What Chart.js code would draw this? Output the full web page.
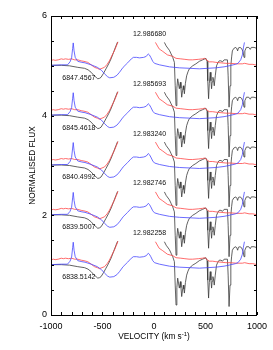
<!DOCTYPE html>
<html>
<head>
<meta charset="utf-8">
<script src="https://cdn.jsdelivr.net/npm/chart.js@4"></script>
<style>
  body { margin: 0; background: #fff; }
</style>
</head>
<body>
<canvas id="fluxChart" width="273" height="350"></canvas>
<script>
const FONT = "'Liberation Sans', Arial, Helvetica, sans-serif";

// vertical offset of each spectrum (top to bottom) and its two labels
const offsets = [4, 3, 2, 1, 0];
const wavelengths = ["6847.4567", "6845.4618", "6840.4992", "6839.5007", "6838.5142"];
const epochs = ["12.986680", "12.985693", "12.983240", "12.982746", "12.982258"];

const xTicks = [-1000, -500, 0, 500, 1000];
const yTicks = [0, 2, 4, 6];

// blue profile
const blueVel = [-1000, -900, -840, -815, -800, -790, -784, -776, -765, -740, -700, -670, -610, -550, -510,
  -480, -450, -430, -390, -360, -335, -300, -256, -220, -200, -170, -140, -100, -75, -55, -45, -31, -12,
  5, 53, 150, 246, 350, 440, 520, 601, 680, 729, 790, 815, 842, 858, 868, 878];
const blueFlux = [1.01, 1.02, 1.02, 1.08, 1.16, 1.35, 1.46, 1.30, 1.17, 1.09, 1.07, 1.06, 1.02, 0.97, 0.91,
  0.84, 0.78, 0.76, 0.77, 0.81, 0.87, 0.97, 1.06, 1.14, 1.17, 1.17, 1.16, 1.17, 1.19, 1.24, 1.22, 1.17, 1.09,
  1.05, 1.02, 0.98, 0.96, 0.95, 0.94, 0.95, 0.96, 0.98, 1.00, 1.03, 1.05, 1.12, 1.22, 1.36, 1.47];

// red profile (null = break)
const redVel = [-1000, -975, -960, -930, -900, -880, -860, -830, -800, -770, -740, -707, -680, -643, -610,
  -578, -550, -530, -505, -481, -455, -433, -410, -385, -365, -350, -340,
  14, 50, 85, 130, 182, 214, 260, 300, 340, 375, 430, 472, 490, 505, 536, 570, 601, 650, 698, 740, 800,
  858, 880, 923, 960, 1000];
const redFlux = [1.11, 1.12, 1.11, 1.12, 1.14, 1.13, 1.14, 1.13, 1.14, 1.12, 1.12, 1.10, 1.09, 1.07, 1.02,
  0.97, 0.95, 0.93, 0.95, 0.97, 1.03, 1.10, 1.20, 1.30, 1.40, 1.48, null,
  1.47, 1.34, 1.29, 1.22, 1.19, 1.15, 1.14, 1.13, 1.12, 1.12, 1.13, 1.14, 1.15, 1.13, 1.08, 1.08, 1.07,
  1.06, 1.05, 1.05, 1.04, 1.04, 1.05, 1.03, 1.03, 1.01];

// black profile (null = break)
const blackVel = [-1000, -900, -820, -740, -674, -640, -610, -585, -562, -546, -528, -514, -490, -466, -440,
  -417, -393, -369, -353, -340,
  101, 118, 150, 166, 182, 198, 206, 214, 222, 230, 238, 246, 256, 262, 269, 277, 285, 290, 295, 305, 317,
  330, 343, 375, 407, 440, 472, 504, 515, 522, 530, 537, 546, 553, 559, 565, 572, 579, 585, 595, 607, 620,
  633, 650, 665, 681, 700, 713, 720, 729, 738, 746, 754, 761, 775, 794, 805, 812, 820, 835, 850, 865, 874,
  882, 897, 920, 935, 945, 971, 1000];
const blackFlux = [1.01, 1.01, 1.00, 0.97, 0.95, 0.92, 0.87, 0.81, 0.77, 0.74, 0.75, 0.77, 0.85, 0.94, 1.04,
  1.14, 1.27, 1.40, 1.48, null,
  1.47, 1.40, 1.31, 1.24, 1.17, 1.07, 0.60, 0.20, 0.55, 0.74, 0.64, 0.54, 0.67, 0.55, 0.37, 0.50, 0.60, 0.52,
  0.44, 0.65, 0.80, 0.88, 0.94, 1.00, 1.04, 1.09, 1.12, 1.15, 1.09, 0.70, 0.34, 0.65, 0.87, 0.70, 0.54, 0.68,
  0.77, 0.70, 0.60, 0.80, 1.00, 1.06, 1.10, 1.10, 1.08, 1.12, 1.12, 1.12, 0.80, 0.17, 0.60, 1.00, 1.18, 1.30,
  1.35, 1.37, 1.34, 1.30, 1.36, 1.37, 1.35, 1.28, 1.17, 1.30, 1.37, 1.37, 1.33, 1.37, 1.37, 1.35];

function points(vel, flux, off) {
  return vel.map((v, i) => ({ x: v, y: flux[i] === null ? null : flux[i] + off }));
}

const datasets = [];
offsets.forEach(off => {
  datasets.push({ data: points(blackVel, blackFlux, off), borderColor: "#3a3a3a", order: 3 });
  datasets.push({ data: points(redVel, redFlux, off), borderColor: "rgb(255,70,70)", order: 2 });
  datasets.push({ data: points(blueVel, blueFlux, off), borderColor: "rgb(70,70,255)", order: 1 });
});

const frame = {
  id: "frame",
  afterDraw(chart) {
    const { ctx, chartArea: a, scales: { x, y } } = chart;
    ctx.save();
    ctx.strokeStyle = "#000";
    ctx.lineWidth = 1;
    ctx.strokeRect(a.left + 0.5, a.top + 0.5, a.right - a.left - 1, a.bottom - a.top);

    // inward ticks on all four sides
    ctx.beginPath();
    for (let v = -1000; v <= 1000; v += 100) {
      const px = Math.round(x.getPixelForValue(v)) + 0.5;
      ctx.moveTo(px, a.bottom); ctx.lineTo(px, a.bottom - 3);
      ctx.moveTo(px, a.top); ctx.lineTo(px, a.top + 3);
    }
    for (let v = 0; v <= 6; v += 0.5) {
      const py = Math.round(y.getPixelForValue(v)) + 0.5;
      ctx.moveTo(a.left, py); ctx.lineTo(a.left + 3, py);
      ctx.moveTo(a.right, py); ctx.lineTo(a.right - 3, py);
    }
    ctx.stroke();

    // spectrum labels
    ctx.fillStyle = "#111";
    ctx.font = "7px " + FONT;
    ctx.textBaseline = "middle";
    offsets.forEach((off, i) => {
      ctx.textAlign = "left";
      ctx.fillText(wavelengths[i], x.getPixelForValue(-890), y.getPixelForValue(off + 0.76));
      ctx.textAlign = "center";
      ctx.fillText(epochs[i], x.getPixelForValue(-43), y.getPixelForValue(off + 1.64));
    });

    // axis titles
    ctx.fillStyle = "#000";
    ctx.font = "8.3px " + FONT;
    ctx.textBaseline = "alphabetic";
    const main = "VELOCITY (km s", sup = "-1", tail = ")";
    const wMain = ctx.measureText(main).width, wTail = ctx.measureText(tail).width;
    ctx.font = "6px " + FONT;
    const wSup = ctx.measureText(sup).width;
    let tx = (a.left + a.right) / 2 - (wMain + wSup + wTail) / 2;
    ctx.textAlign = "left";
    ctx.font = "8.3px " + FONT;
    ctx.fillText(main, tx, 339);
    ctx.font = "6px " + FONT;
    ctx.fillText(sup, tx + wMain, 335.5);
    ctx.font = "8.3px " + FONT;
    ctx.fillText(tail, tx + wMain + wSup, 339);

    ctx.translate(33, (a.top + a.bottom) / 2);
    ctx.rotate(-Math.PI / 2);
    ctx.textAlign = "center";
    ctx.textBaseline = "middle";
    ctx.fillText("NORMALISED FLUX", 0, 0);
    ctx.restore();
  }
};

new Chart(document.getElementById("fluxChart"), {
  type: "line",
  data: { datasets },
  options: {
    responsive: false,
    animation: false,
    devicePixelRatio: 1,
    layout: { padding: { left: 0, right: 15, top: 16, bottom: 0 } },
    elements: {
      point: { radius: 0 },
      line: { borderWidth: 0.8, tension: 0 }
    },
    spanGaps: false,
    plugins: { legend: { display: false }, tooltip: { enabled: false } },
    scales: {
      x: {
        type: "linear",
        min: -1000, max: 1000,
        grid: { display: false, drawTicks: false },
        border: { display: false },
        afterBuildTicks: s => { s.ticks = xTicks.map(v => ({ value: v })); },
        afterFit: s => { s.height = 35; },
        ticks: { color: "#000", font: { family: FONT, size: 9 }, padding: 6, maxRotation: 0,
                 callback: v => String(v) }
      },
      y: {
        min: 0, max: 6,
        grid: { display: false, drawTicks: false },
        border: { display: false },
        afterBuildTicks: s => { s.ticks = yTicks.map(v => ({ value: v })); },
        afterFit: s => { s.width = 51; },
        ticks: { color: "#000", font: { family: FONT, size: 9 }, padding: 4,
                 callback: v => String(v) }
      }
    }
  },
  plugins: [frame]
});
</script>
</body>
</html>
